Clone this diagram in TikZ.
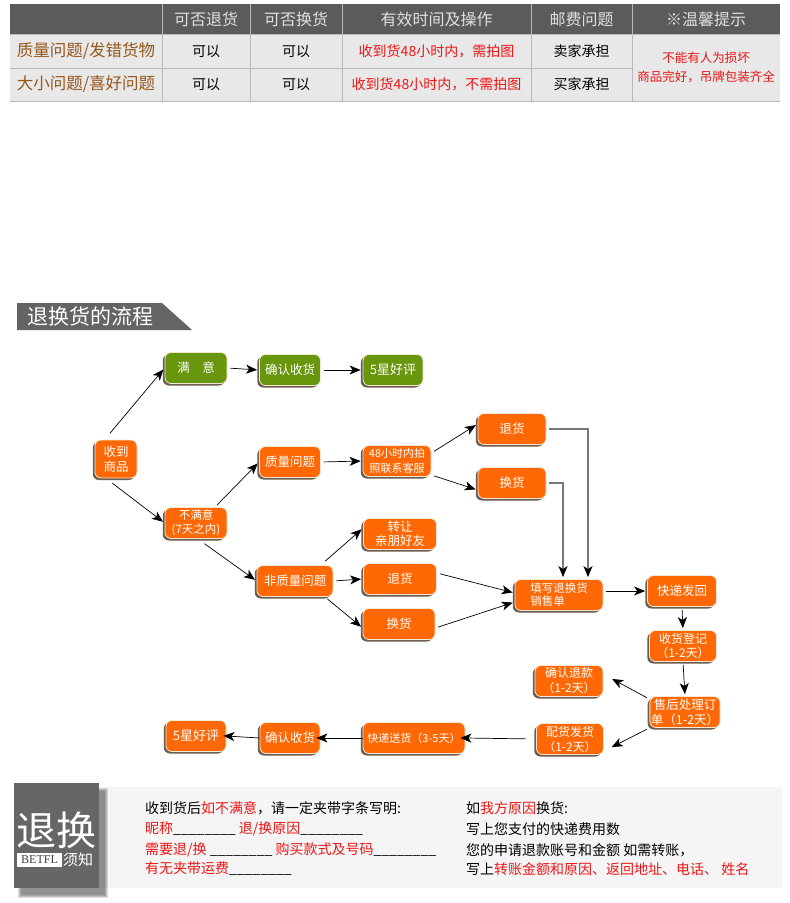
\documentclass[tikz,border=0pt]{standalone}
\usepackage{fontspec}
\setmainfont{Noto Sans CJK SC}
\newfontfamily\betfont{Liberation Serif}
\usetikzlibrary{arrows.meta,shadows}

\definecolor{headgray}{RGB}{91,91,91}
\definecolor{cellgray}{RGB}{232,232,232}
\definecolor{rowbrown}{RGB}{150,88,30}
\definecolor{tipred}{RGB}{238,22,22}
\definecolor{boxorange}{RGB}{255,104,4}
\definecolor{boxgreen}{RGB}{104,150,12}
\definecolor{boxedge}{RGB}{246,232,212}
\definecolor{boxshadow}{RGB}{92,76,60}
\definecolor{linegray}{RGB}{120,120,120}
\definecolor{bannergray}{RGB}{100,100,100}
\definecolor{panelbg}{RGB}{245,245,245}
\definecolor{tipgray}{RGB}{102,102,102}

\tikzset{
  gridline/.style={draw=gray!55, line width=0.6pt},
  headtext/.style={text=white!88!black, font=\fontsize{16}{18}\selectfont},
  rowtext/.style={text=rowbrown, font=\fontsize{16.5}{18}\selectfont},
  celltext/.style={font=\fontsize{14}{16}\selectfont},
  flowbox/.style={rectangle, rounded corners=6pt, fill=boxorange, draw=boxedge,
    line width=0.8pt, text=white, align=center, inner sep=1pt, minimum height=31pt,
    font=\fontsize{12.5}{15}\selectfont,
    drop shadow={shadow xshift=-2.2pt, shadow yshift=-2pt, fill=boxshadow, opacity=0.9}},
  greenbox/.style={flowbox, fill=boxgreen},
  flowarrow/.style={-{Stealth[length=11pt,width=9pt,inset=3pt]}, line width=0.7pt,
    shorten <=3pt, shorten >=2pt},
  grayarrow/.style={flowarrow, draw=linegray, line width=1.3pt,
    -{Stealth[length=11pt,width=9pt,inset=3pt,color=black]}},
  notetext/.style={anchor=west, inner sep=0pt, font=\fontsize{14}{16}\selectfont},
}
\newcommand\blankline{\_\_\_\_\_\_\_\_}

\begin{document}
\begin{tikzpicture}[x=1pt,y=-1pt]
  \fill[white] (0,0) rectangle (790,903);
  \useasboundingbox (0,0) rectangle (790,903);

  % table
  \fill[headgray] (10,4) rectangle (780,34);
  \fill[cellgray] (10,34) rectangle (780,101);
  \foreach \x in {162,250,342,531,632}
    \draw[gridline] (\x,4) -- (\x,101);
  \draw[gridline] (10,34) -- (780,34);
  \draw[gridline] (10,68) -- (632,68);
  \draw[gridline] (10,101) -- (780,101);
  \foreach \x/\t [count=\i] in {206/可否退货, 296/可否换货, 436.5/有效时间及操作, 581.5/邮费问题, 706/※温馨提示}
    \node[headtext] (head\i) at (\x,19) {\t};
  \node[rowtext] (row1) at (86,51) {质量问题/发错货物};
  \node[rowtext] (row2) at (86,84.5) {大小问题/喜好问题};
  \node[celltext] (ret1) at (206,51) {可以};
  \node[celltext] (exc1) at (296,51) {可以};
  \node[celltext] (ret2) at (206,84.5) {可以};
  \node[celltext] (exc2) at (296,84.5) {可以};
  \node[celltext, text=tipred] (time1) at (436.5,51) {收到货48小时内，需拍图};
  \node[celltext, text=tipred] (time2) at (436.5,84.5) {收到货48小时内，不需拍图};
  \node[celltext] (post1) at (581.5,51) {卖家承担};
  \node[celltext] (post2) at (581.5,84.5) {买家承担};
  \node[celltext, text=tipred, align=center, font=\fontsize{12.5}{19}\selectfont] (tip) at (706,67)
    {不能有人为损坏\\商品完好，吊牌包装齐全};

  % banner
  \fill[bannergray] (17,303) -- (162,303) -- (192,330) -- (17,330) -- cycle;
  \node[anchor=west, text=white, inner sep=0pt, font=\fontsize{21}{21}\selectfont] (liucheng) at (27,316.5) {退换货的流程};

  % flow boxes
  \node[flowbox, minimum width=42pt, minimum height=38pt] (shouhuo) at (116,459) {收到\\商品};
  \node[greenbox, minimum width=62pt] (manyi) at (196,368) {满\quad 意};
  \node[greenbox, minimum width=61pt] (queren1) at (290,370) {确认收货};
  \node[greenbox, minimum width=60pt, font=\fontsize{13}{15}\selectfont] (haoping1) at (393,370) {5星好评};
  \node[flowbox, minimum width=62pt, font=\fontsize{11.5}{14}\selectfont] (bumanyi) at (196,523) {不满意\\(7天之内)};
  \node[flowbox, minimum width=61pt] (zhiliang) at (290,462) {质量问题};
  \node[flowbox, minimum width=68pt, font=\fontsize{11}{15}\selectfont] (pai48) at (397,461) {48小时内拍\\照联系客服};
  \node[flowbox, minimum width=68pt] (tuihuo1) at (512,429) {退货};
  \node[flowbox, minimum width=68pt] (huanhuo1) at (512,483) {换货};
  \node[flowbox, minimum width=76pt] (feizhiliang) at (295,581) {非质量问题};
  \node[flowbox, minimum width=73pt, font=\fontsize{12.5}{14}\selectfont] (zhuanrang) at (400,534) {转让\\亲朋好友};
  \node[flowbox, minimum width=73pt] (tuihuo2) at (400,579) {退货};
  \node[flowbox, minimum width=72pt] (huanhuo2) at (399,624) {换货};
  \node[flowbox, minimum width=88pt, align=left, font=\fontsize{11.5}{13}\selectfont] (tianxie) at (559,595) {填写退换货\\销售单};
  \node[flowbox, minimum width=69pt] (kuaidi) at (682,591) {快递发回};
  \node[flowbox, minimum width=67pt, font=\fontsize{12}{14}\selectfont] (dengji) at (683,646) {收货登记\\（1-2天）};
  \node[flowbox, minimum width=66pt, font=\fontsize{12.5}{15}\selectfont] (shouhou) at (685,712) {售后处理订\\单（1-2天）};
  \node[flowbox, minimum width=68pt, font=\fontsize{12}{15}\selectfont] (tuikuan) at (569,681) {确认退款\\（1-2天）};
  \node[flowbox, minimum width=67pt, font=\fontsize{12}{15}\selectfont] (peihuo) at (570,739) {配货发货\\（1-2天）};
  \node[flowbox, minimum width=102pt, font=\fontsize{11}{14}\selectfont] (songhuo) at (414,738) {快递送货（3-5天）};
  \node[flowbox, minimum width=60pt] (queren2) at (290,738) {确认收货};
  \node[flowbox, minimum width=60pt, font=\fontsize{13}{15}\selectfont] (haoping2) at (196,736) {5星好评};

  % connectors
  \draw[flowarrow] ([xshift=-8pt,yshift=4pt]shouhuo.north) -- (manyi.west);
  \draw[flowarrow] ([xshift=-6pt,yshift=-3pt]shouhuo.south) -- (bumanyi.west);
  \draw[flowarrow] (manyi.east) -- (queren1.west);
  \draw[flowarrow] (queren1.east) -- (haoping1.west);
  \draw[flowarrow] ([xshift=19pt]bumanyi.north) -- (zhiliang.west);
  \draw[flowarrow] ([xshift=6pt,yshift=-3pt]bumanyi.south) -- (feizhiliang.west);
  \draw[flowarrow] (zhiliang.east) -- (pai48.west);
  \draw[flowarrow] ([yshift=8pt]pai48.east) -- ([yshift=5pt]tuihuo1.west);
  \draw[flowarrow] ([yshift=-14pt]pai48.east) -- ([yshift=-7pt]huanhuo1.west);
  \draw[flowarrow] ([xshift=28pt,yshift=2pt]feizhiliang.north) -- ([yshift=6pt]zhuanrang.west);
  \draw[flowarrow] (feizhiliang.east) -- (tuihuo2.west);
  \draw[flowarrow] ([xshift=30pt]feizhiliang.south) -- ([yshift=-4pt]huanhuo2.west);
  \draw[grayarrow] (tuihuo1.east) -| ([xshift=29pt]tianxie.north);
  \draw[grayarrow] (huanhuo1.east) -| ([xshift=4pt]tianxie.north);
  \draw[flowarrow] ([yshift=6pt]tuihuo2.east) -- ([yshift=2pt]tianxie.west);
  \draw[flowarrow] ([yshift=-4pt]huanhuo2.east) -- ([yshift=-7pt]tianxie.west);
  \draw[flowarrow] (tianxie.east |- kuaidi.west) -- (kuaidi.west);
  \draw[flowarrow] (kuaidi.south) -- (dengji.north);
  \draw[flowarrow] (dengji.south) -- (shouhou.north);
  \draw[flowarrow] ([yshift=-3pt]shouhou.north west) -- ([xshift=7pt,yshift=3pt]tuikuan.east);
  \draw[flowarrow] (shouhou.south west) -- ([xshift=6pt,yshift=-9pt]peihuo.east);
  \draw[flowarrow, shorten <=10pt, shorten >=-5pt] (peihuo.west) -- (songhuo.east);
  \draw[flowarrow, shorten <=0pt, shorten >=-4pt] (songhuo.west) -- (queren2.east);
  \draw[flowarrow, shorten <=0pt, shorten >=-3pt] (queren2.west) -- (haoping2.east);

  % notice panel
  \fill[panelbg] (14,787) rectangle (782,888);
  \foreach \s in {0,1,2,3}
    \fill[black, opacity=0.13] ({18+\s},{788+\s}) rectangle ({108-\s},{898-\s});
  \fill[tipgray] (14,783) rectangle (99,888);
  \node[text=white, inner sep=0pt, font=\fontsize{40}{40}\selectfont] (tuihuan) at (56.5,830) {退换};
  \node[fill=white, text=black!75, inner sep=1pt, minimum width=45pt, minimum height=14pt,
    font=\betfont\fontsize{12}{12}\selectfont] (betfl) at (39.5,860) {BETFL};
  \node[anchor=west, text=white, inner sep=0pt, font=\fontsize{15}{15}\selectfont] (xuzhi) at (63,860) {须知};

  \node[notetext] (left1) at (145,808) {收到货后\textcolor{tipred}{如不满意}，请一定夹带字条写明:};
  \node[notetext] (left2) at (145,829) {\textcolor{tipred}{昵称}\blankline\ \textcolor{tipred}{退/换原因}\blankline};
  \node[notetext] (left3) at (145,850) {\textcolor{tipred}{需要退/换}\ \blankline\ \textcolor{tipred}{购买款式及号码}\blankline};
  \node[notetext] (left4) at (145,869) {\textcolor{tipred}{有无夹带运费}\blankline};

  \node[notetext] (right1) at (466,808) {如\textcolor{tipred}{我方原因}换货:};
  \node[notetext] (right2) at (466,829) {写上您支付的快递费用数};
  \node[notetext] (right3) at (466,850) {您的申请退款账号和金额 如需转账，};
  \node[notetext] (right4) at (466,869) {写上\textcolor{tipred}{转账金额和原因、返回地址、电话、 姓名}};
\end{tikzpicture}
\end{document}
